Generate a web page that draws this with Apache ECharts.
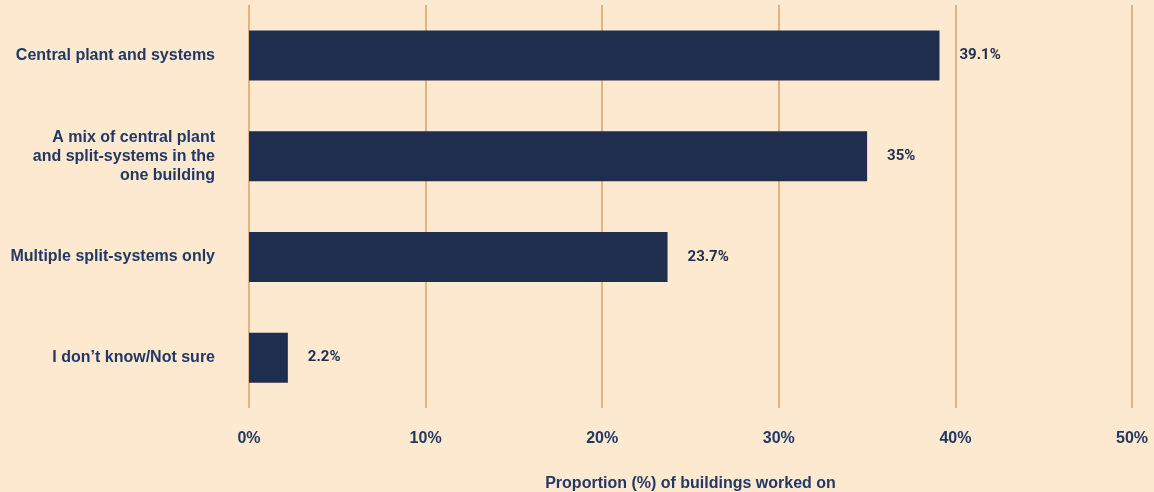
<!DOCTYPE html>
<html>
<head>
<meta charset="utf-8">
<script src="https://cdn.jsdelivr.net/npm/echarts@6/dist/echarts.min.js"></script>
<style>
html,body{margin:0;padding:0;background:#FDE8D0;}
#c{width:1154px;height:492px;}
</style>
</head>
<body>
<div id="c"></div>
<script>
const categories = [
  "Central plant and systems",
  "A mix of central plant\nand split-systems in the\none building",
  "Multiple split-systems only",
  "I don\u2019t know/Not sure"
];
const values = [39.1, 35, 23.7, 2.2];
const xTicks = [0, 10, 20, 30, 40, 50];
const axisTitle = "Proportion (%) of buildings worked on";

const navy = "#1F2D4E";
const textColor = "#223862";
const sans = 'Liberation Sans, Arial, sans-serif';
const chart = echarts.init(document.getElementById('c'), null, {renderer: 'canvas'});
chart.setOption({
  backgroundColor: "#FDE8D0",
  animation: false,
  grid: {left: 249, right: 22, top: 5, bottom: 84, containLabel: false, outerBoundsMode: 'none'},
  xAxis: {
    type: 'value',
    min: xTicks[0], max: xTicks[xTicks.length - 1], interval: 10,
    axisLine: {show: false},
    axisTick: {show: false},
    splitLine: {show: true, lineStyle: {color: "#DFB385", width: 2}},
    axisLabel: {
      formatter: v => v + '%',
      color: textColor, fontWeight: 'bold', fontSize: 16,
      fontFamily: sans, margin: 23
    },
    name: axisTitle,
    nameLocation: 'middle',
    nameGap: 68,
    nameTextStyle: {color: textColor, fontWeight: 'bold', fontSize: 16, fontFamily: sans}
  },
  yAxis: {
    type: 'category',
    data: categories,
    inverse: true,
    axisLine: {show: false},
    axisTick: {show: false},
    splitLine: {show: false},
    axisLabel: {
      color: textColor, fontWeight: 'bold', fontSize: 16, lineHeight: 19,
      fontFamily: sans, margin: 34, align: 'right'
    }
  },
  series: [{
    type: 'bar',
    data: values,
    barWidth: 50,
    itemStyle: {color: navy},
    label: {
      show: true, position: 'right', distance: 20,
      formatter: p => p.value + '%',
      color: navy, fontWeight: 'bold', fontSize: 15,
      fontFamily: 'Roboto, Liberation Sans, sans-serif'
    }
  }]
});
</script>
</body>
</html>
